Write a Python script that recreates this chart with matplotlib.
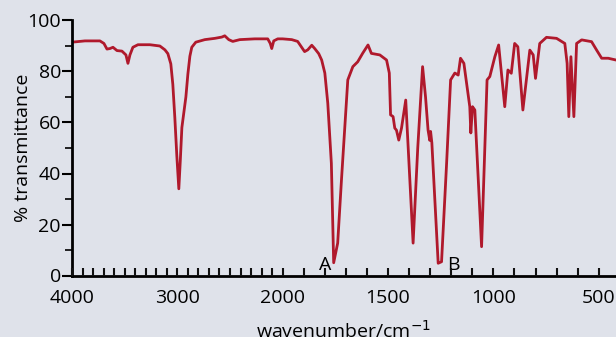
import numpy as np
import matplotlib
matplotlib.use("Agg")
import matplotlib.pyplot as plt
from matplotlib.ticker import FixedLocator, FuncFormatter

wavenumber = [4000, 3877, 3735, 3697, 3668, 3640, 3611, 3573, 3526, 3488, 3469, 3450, 3422, 3374,
              3261, 3166, 3118, 3090, 3062, 3043, 3024, 3005, 2986, 2972, 2957, 2938, 2919, 2900,
              2881, 2863, 2825, 2739, 2644, 2578, 2550, 2512, 2474, 2407, 2265, 2142, 2118, 2104,
              2085, 2047, 2000, 1957, 1929, 1910, 1896, 1881, 1862, 1848, 1829, 1815, 1800, 1786,
              1777, 1769, 1763, 1758, 1748, 1739, 1721, 1706, 1691, 1667, 1644, 1620, 1606, 1595,
              1579, 1539, 1507, 1494, 1488, 1476, 1468, 1460, 1449, 1436, 1416, 1398, 1381, 1359,
              1336, 1322, 1310, 1302, 1298, 1292, 1262, 1246, 1222, 1203, 1183, 1167, 1156, 1140,
              1112, 1107, 1099, 1088, 1056, 1030, 1017, 993, 975, 946, 931, 915, 899, 884, 860,
              827, 811, 800, 780, 748, 700, 661, 650, 642, 632, 618, 605, 581, 534, 510, 486,
              455, 418]
transmittance = [91.5, 92, 92, 91, 88.8, 89, 89.5, 88.2, 88, 86.5, 83.2, 86.5, 89.5, 90.5,
                 90.5, 90, 88.5, 87, 83, 75, 62, 47, 34, 45, 58, 64, 70, 79,
                 86, 89.5, 91.5, 92.5, 93, 93.5, 94, 92.5, 91.8, 92.5, 92.8, 92.8, 91, 89,
                 92, 92.8, 92.8, 92.5, 91.8, 89.5, 87.8, 88.5, 90.3, 89, 87, 84.5, 79.4, 67.6,
                 55, 44, 22, 5, 9, 12.7, 37.5, 57, 76.7, 81.9, 83.8, 87.2, 89, 90.4,
                 87.1, 86.5, 84.5, 79.4, 63, 62.3, 57.8, 57, 53.1, 57.8, 68.8, 40, 12.7, 50,
                 81.9, 70, 57, 53, 56.5, 52, 4.8, 5.4, 44, 76.7, 79.4, 78.6, 85.2, 83.2,
                 66.2, 55.9, 66.2, 64.9, 11.3, 76.7, 78, 85.8, 90.4, 66.2, 80.6, 79.3, 91, 89.7, 64.9,
                 88.4, 86.5, 77.3, 91, 93.4, 93, 91, 83.2, 62.3, 85.8, 62.3, 91, 92.4, 91.7, 88.4, 85.2,
                 85.2, 84.5]

x_labelled = [4000, 3000, 2000, 1500, 1000, 500]
x_ticks = list(range(500, 4001, 100))
y_major = [0, 20, 40, 60, 80, 100]
y_minor = [10, 30, 50, 70, 90]
peak_labels = ["A", "B"]
peak_label_x = [1800, 1192]
peak_label_y = [4, 4]

bg = "#dfe2ea"
red = "#b0192c"

def fwd(w):
    w = np.asarray(w, dtype=float)
    return np.where(w >= 2000, w - 2000, 2 * (w - 2000))

def inv(p):
    p = np.asarray(p, dtype=float)
    return np.where(p >= 0, p + 2000, p / 2 + 2000)

plt.rcParams['font.family'] = ['Open Sans', 'DejaVu Sans']

fig = plt.figure(figsize=(6.16, 3.37), dpi=100, facecolor=bg)
ax = fig.add_axes([72 / 616, 1 - 275.5 / 337, 1 - 72 / 616, (275.5 - 20.5) / 337])
ax.set_facecolor(bg)
ax.set_xscale('function', functions=(fwd, inv))
ax.plot(wavenumber, transmittance, color=red, lw=2.0, solid_joinstyle='round', zorder=2)
ax.set_xlim(4000, 418)
ax.set_ylim(0, 100)

for s in ['top', 'right']:
    ax.spines[s].set_visible(False)
for s in ['left', 'bottom']:
    ax.spines[s].set_linewidth(2)
    ax.spines[s].set_color('black')

ax.xaxis.set_major_locator(FixedLocator(x_ticks))
ax.xaxis.set_major_formatter(FuncFormatter(
    lambda v, pos: str(int(round(v))) if int(round(v)) in x_labelled else ""))
ax.yaxis.set_major_locator(FixedLocator(y_major))
ax.yaxis.set_minor_locator(FixedLocator(y_minor))

ax.tick_params(axis='x', which='major', direction='in', length=6, width=1.5,
               color='#111111', pad=10, labelsize=14)
ax.tick_params(axis='y', which='major', direction='out', length=7, width=1.5, pad=1, labelsize=14)
ax.tick_params(axis='y', which='minor', direction='out', length=5, width=1.2)
ax.xaxis.set_zorder(5)

for lbl, xv, yv in zip(peak_labels, peak_label_x, peak_label_y):
    ax.text(xv, yv, lbl, fontsize=14, ha='center', va='center')

ax.set_ylabel('% transmittance', fontsize=14, labelpad=-3.5)
ax.set_xlabel('wavenumber/cm$^{-1}$', fontsize=14, labelpad=9)

fig.savefig('out.png', dpi=100, facecolor=bg)
